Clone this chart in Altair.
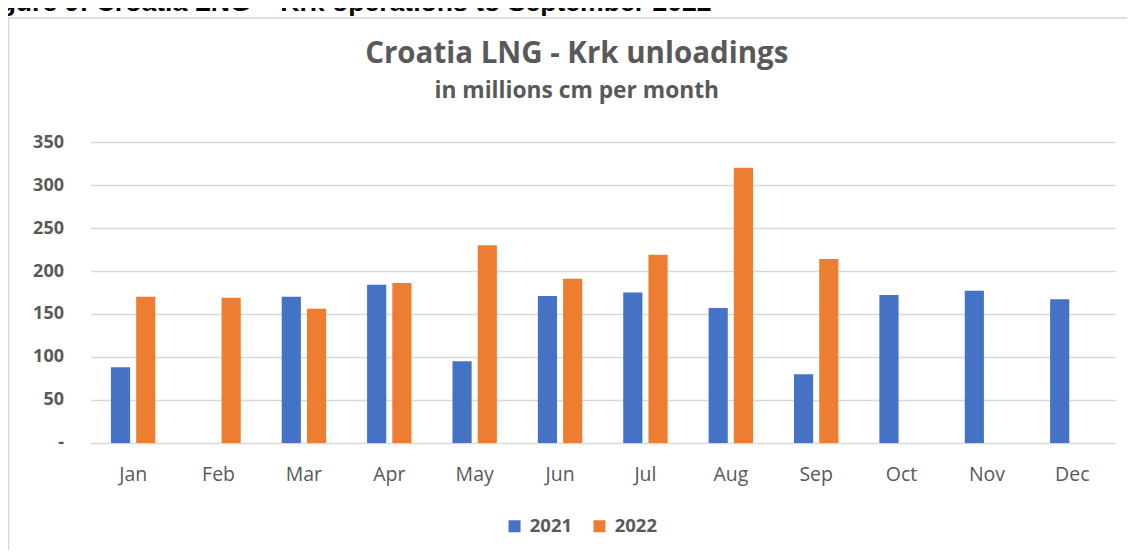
import altair as alt
import pandas as pd

months = ["Jan", "Feb", "Mar", "Apr", "May", "Jun", "Jul", "Aug", "Sep", "Oct", "Nov", "Dec"]
years = ["2021", "2022"]
values_2021 = [88, None, 170, 184, 95, 171, 175, 157, 80, 172, 177, 167]
values_2022 = [170, 169, 156, 186, 230, 191, 219, 320, 214, None, None, None]
y_ticks = [0, 50, 100, 150, 200, 250, 300, 350]

title_text = "Croatia LNG - Krk unloadings"
subtitle_text = "in millions cm per month"
caption_text = "Figure 9: Croatia LNG \u2013 Krk operations to September 2022"

rows = []
for m, a, b in zip(months, values_2021, values_2022):
    if a is not None:
        rows.append({"month": m, "year": "2021", "value": a})
    if b is not None:
        rows.append({"month": m, "year": "2022", "value": b})
df = pd.DataFrame(rows)

GRAY = "#595959"
FONT = "Open Sans"

bars = alt.Chart(df).mark_bar().encode(
    x=alt.X(
        "month:N",
        sort=months,
        scale=alt.Scale(domain=months, paddingInner=0.48, paddingOuter=0.24),
        axis=alt.Axis(
            title=None, labelAngle=0, domain=False, ticks=False, tickSize=0,
            labelPadding=23, labelFontSize=19.5, labelColor=GRAY, labelFont=FONT,
            grid=False,
        ),
    ),
    xOffset=alt.XOffset(
        "year:N", scale=alt.Scale(domain=years, paddingInner=0.24, paddingOuter=0)
    ),
    y=alt.Y(
        "value:Q",
        scale=alt.Scale(domain=[0, 350], nice=False),
        axis=alt.Axis(
            title=None, values=y_ticks, domain=False, ticks=False, tickSize=0,
            grid=True, gridColor="#d9d9d9", gridWidth=1.5,
            labelFontSize=18, labelFontWeight="bold", labelColor=GRAY, labelFont=FONT,
            labelPadding=27,
            labelExpr="datum.value == 0 ? '-' : datum.label",
        ),
    ),
    color=alt.Color(
        "year:N",
        scale=alt.Scale(domain=years, range=["#4472C4", "#ED7D31"]),
        legend=alt.Legend(
            title=None, orient="none", legendX=415, legendY=375, direction="horizontal",
            symbolType="square", symbolSize=144, symbolStrokeWidth=0,
            labelFontSize=18.5, labelFontWeight="bold", labelColor=GRAY, labelFont=FONT,
            labelOffset=6, columnPadding=18,
        ),
    ),
)

one = pd.DataFrame({"k": [0]})

title = alt.Chart(one).mark_text(
    font=FONT, fontSize=29.5, fontWeight="bold", color=GRAY, align="center", baseline="alphabetic"
).encode(x=alt.value(486.5), y=alt.value(-79), text=alt.value(title_text))

subtitle = alt.Chart(one).mark_text(
    font=FONT, fontSize=22.8, fontWeight="bold", color=GRAY, align="center", baseline="alphabetic"
).encode(x=alt.value(486.5), y=alt.value(-44), text=alt.value(subtitle_text))

caption = alt.Chart(one).mark_text(
    font="Liberation Sans", fontSize=26.6, fontWeight="bold", color="#000000",
    align="left", baseline="alphabetic"
).encode(x=alt.value(-114.5), y=alt.value(-131), text=alt.value(caption_text))

left_border = alt.Chart(one).mark_rule(color="#d6d6d6", strokeWidth=1.5).encode(
    x=alt.value(-82), y=alt.value(-124), y2=alt.value(408)
)
top_border = alt.Chart(one).mark_rule(color="#d6d6d6", strokeWidth=1.5).encode(
    x=alt.value(-82), x2=alt.value(1040), y=alt.value(-124)
)

chart = alt.layer(left_border, top_border, caption, title, subtitle, bars).properties(
    width=1025,
    height=301,
    autosize=alt.AutoSizeParams(type="none"),
    padding={"left": 82.5, "top": 134, "right": 12, "bottom": 107},
).configure_view(stroke=None)

chart.save("out.html", embed_options={"renderer": "svg", "actions": False})
